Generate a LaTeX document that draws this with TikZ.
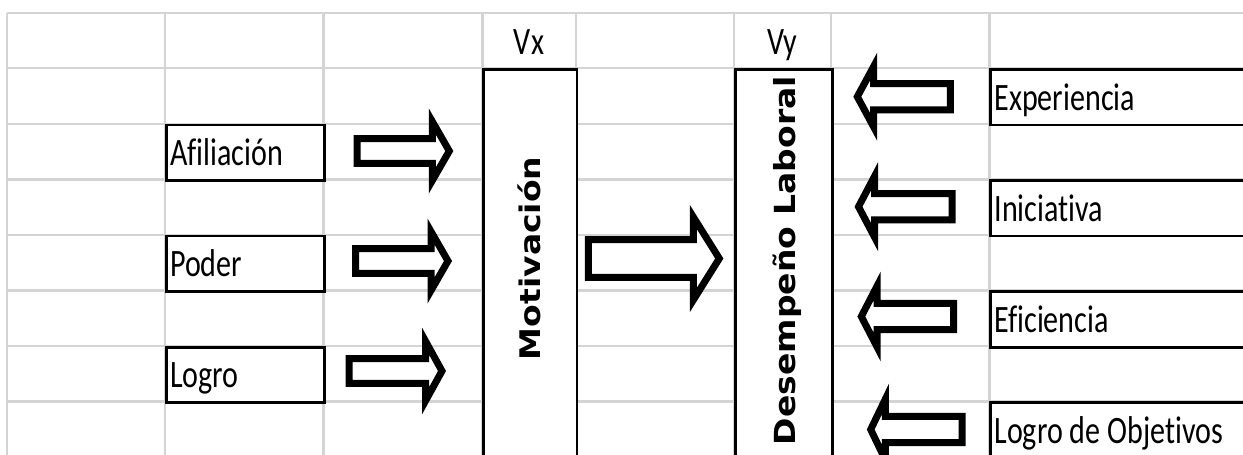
\documentclass[tikz,border=0pt]{standalone}
\usepackage{fontspec}
\usepackage{graphicx}
\usetikzlibrary{calc}
\newfontfamily\cellfont[FakeStretch=0.775,Ligatures=NoCommon]{Carlito}
\newfontfamily\boldsans{DejaVu Sans Bold}
\definecolor{gridgray}{RGB}{212,212,212}

% hollow block arrow: name, tail x, head-base x, tip x, centre y, body half height, head half height
\newcommand\blockarrowpath[7]{%
  \draw[blockarrow] (#2,{#5-#6}) -- (#3,{#5-#6}) -- (#3,{#5-#7}) -- (#4,#5)
    -- (#3,{#5+#7}) -- (#3,{#5+#6}) -- (#2,{#5+#6}) -- cycle;
  \coordinate (#1) at (#4,#5);}

\begin{document}
\begin{tikzpicture}[x=1pt,y=-1pt,
  gridline/.style={draw=gridgray, line width=2.4pt},
  cellbox/.style={draw=black, line width=2.6pt, fill=white, inner sep=0pt,
    anchor=north west, minimum width=158.3, minimum height=55.54},
  widebox/.style={cellbox, minimum width=275},
  tallbox/.style={draw=black, line width=2.6pt, fill=white, inner sep=0pt,
    anchor=north west, minimum height=420},
  celltext/.style={anchor=base west, inner sep=0pt,
    font=\cellfont\fontsize{38.8}{40}\selectfont},
  headtext/.style={anchor=base, inner sep=0pt,
    font=\cellfont\fontsize{38.8}{40}\selectfont},
  vartext/.style={rotate=90, anchor=base, inner sep=0pt,
    font=\boldsans\fontsize{33}{36}\selectfont},
  blockarrow/.style={draw=black, fill=white, line width=7pt, line join=miter, miter limit=10}]

\useasboundingbox (0,0) rectangle (1243,455);
\clip (0,0) rectangle (1243,455);
\fill[white] (0,0) rectangle (1243,455);

% spreadsheet grid
\foreach \y in {12.7,68.24,123.78,179.32,234.86,290.4,345.94,401.48}
  \draw[gridline] (6.7,\y) -- (1250,\y);
\foreach \x in {6.7,165,323.3,482.3,575.7,734,831,989.3}
  \draw[gridline] (\x,12.7) -- (\x,460);

% column headers
\node[headtext] (vx) at (529,54.7) {Vx};
\node[headtext] (vy) at (782.5,54.7) {Vy};

% dimensions of the independent variable
\node[cellbox] (afil) at (165,123.78) {};
\node[cellbox] (poder) at (165,234.86) {};
\node[cellbox] (logro) at (165,345.94) {};
\node[celltext] at ($(afil.north west)+(5,42)$) {Afiliación};
\node[celltext] at ($(poder.north west)+(5,42)$) {Poder};
\node[celltext] at ($(logro.north west)+(5,42)$) {Logro};

% the two variables
\node[tallbox, minimum width=93.4] (motiv) at (482.3,68.24) {};
\node[tallbox, minimum width=96.7] (desemp) at (734.2,68.24) {};
\node[vartext] at (540,258.3) {\scalebox{1}[0.86]{Motivación}};
\node[vartext] at (795,260.5) {\scalebox{1}[0.88]{Desempeño Laboral}};

% dimensions of the dependent variable
\node[widebox] (exper) at (989.3,68.24) {};
\node[widebox] (inic) at (989.3,179.32) {};
\node[widebox] (efic) at (989.3,290.4) {};
\node[widebox] (lobj) at (989.3,401.48) {};
\node[celltext] at ($(exper.north west)+(5,42)$) {Experiencia};
\node[celltext] at ($(inic.north west)+(5,42)$) {Iniciativa};
\node[celltext] at ($(efic.north west)+(5,42)$) {Eficiencia};
\node[celltext] at ($(lobj.north west)+(5,42)$) {Logro de Objetivos};

% arrows into Motivación
\blockarrowpath{a1}{357}{432.3}{449.3}{151}{12.4}{29.5}
\blockarrowpath{a2}{355.7}{431}{448}{261}{12.4}{29.5}
\blockarrowpath{a3}{349}{425.7}{442}{371}{12.4}{29.5}

% Motivación towards Desempeño Laboral
\blockarrowpath{a4}{588.3}{693.3}{719.3}{258.5}{18.8}{41.5}

% arrows into Desempeño Laboral
\blockarrowpath{b1}{950.3}{873.7}{857.3}{96.7}{13.2}{30.3}
\blockarrowpath{b2}{952}{874.5}{858.5}{206.7}{13.2}{30.3}
\blockarrowpath{b3}{953.7}{877}{861.3}{316.5}{13.2}{30.3}
\blockarrowpath{b4}{962}{885.3}{870.7}{429.5}{13.2}{30.3}
\end{tikzpicture}
\end{document}
